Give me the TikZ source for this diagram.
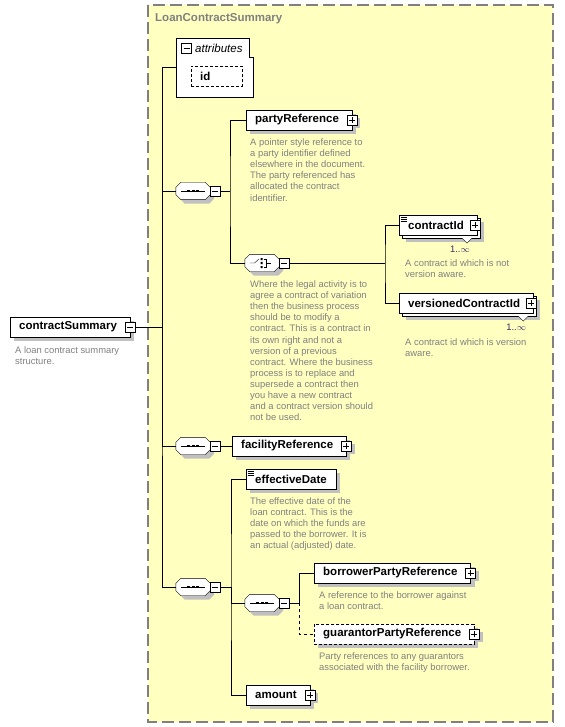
\documentclass[tikz,border=0pt]{standalone}
\usepackage{fontspec}
\setmainfont{Liberation Sans}
\definecolor{paleyellow}{RGB}{255,255,192}
\definecolor{framegray}{RGB}{128,128,128}
\definecolor{shadowgray}{RGB}{192,192,192}
\definecolor{notegray}{RGB}{128,128,128}
\definecolor{multcol}{RGB}{60,40,100}
\pgfdeclarelayer{back}
\pgfdeclarelayer{under}
\pgfsetlayers{back,under,main}
\tikzset{
  elem/.style={draw,fill=white,anchor=west,minimum height=20pt,inner xsep=9pt,inner ysep=0pt,
    font=\fontsize{11.5}{13}\selectfont\bfseries},
  elemx/.style={elem,execute at end node={\kern4pt}},
  simpletype/.style={path picture={
    \foreach \k in {2,4,6}
      \draw[line width=.8pt] ([xshift=1.5pt,yshift=-\k pt]path picture bounding box.north west) -- ++(6,0);}},
  attrbox/.style={elem,dash pattern=on 3pt off 2pt,text width=33pt,align=left},
  pmbox/.style={draw,fill=white,minimum size=10pt,inner sep=0pt},
  minusbox/.style={pmbox,path picture={
    \draw ([xshift=2pt]path picture bounding box.west) -- ([xshift=-2pt]path picture bounding box.east);}},
  plusbox/.style={pmbox,path picture={
    \draw ([xshift=2pt]path picture bounding box.west) -- ([xshift=-2pt]path picture bounding box.east)
      ([yshift=2pt]path picture bounding box.south) -- ([yshift=-2pt]path picture bounding box.north);}},
  grp/.style={rectangle,minimum width=34pt,minimum height=17pt,inner sep=0pt},
  seqicon/.style={grp,path picture={
    \draw[black] ([xshift=5pt]path picture bounding box.west) -- ([xshift=-5pt]path picture bounding box.east);
    \foreach \d in {-4.5,0,4.5}
      \fill[black] ([xshift=\d pt-1.5pt,yshift=-1.2pt]path picture bounding box.center)
        rectangle ([xshift=\d pt+1.5pt,yshift=1.2pt]path picture bounding box.center);}},
  choiceicon/.style={grp,path picture={
    \begin{scope}[shift={(path picture bounding box.center)}]
      \draw (-12.5,0) -- (-7.5,0) -- (-3,-4);
      \fill[black] (-1.5,-5) rectangle (0.7,-3) (-1.5,-1.1) rectangle (0.7,1.1) (-1.5,3) rectangle (0.7,5);
      \draw (1.7,-4) -- (4.5,-4) -- (4.5,4) -- (1.7,4) (4.5,0) -- (8.5,0);
    \end{scope}}},
  note/.style={anchor=north west,align=left,inner sep=0pt,text=notegray,font=\fontsize{9.4}{11.1}\selectfont},
  mult/.style={anchor=east,inner sep=0pt,text=multcol,font=\fontsize{9.4}{11}\selectfont}
}
% octagon round a group node, moved right and down by #2
\newcommand\octapath[2]{([xshift=5pt+#2,yshift=-#2]#1.north west) -- ([xshift=-5pt+#2,yshift=-#2]#1.north east)
  -- ([xshift=#2,yshift=-5pt-#2]#1.north east) -- ([xshift=#2,yshift=5pt-#2]#1.south east)
  -- ([xshift=-5pt+#2,yshift=-#2]#1.south east) -- ([xshift=5pt+#2,yshift=-#2]#1.south west)
  -- ([xshift=#2,yshift=5pt-#2]#1.south west) -- ([xshift=#2,yshift=-5pt-#2]#1.north west) -- cycle}
\begin{document}
\begin{tikzpicture}[x=1pt,y=-1pt,line width=1pt]
\useasboundingbox (0,0) rectangle (564,727);
% complex type frame
\begin{pgfonlayer}{back}
\draw[draw=framegray,fill=paleyellow,dash pattern=on 12pt off 5pt,line width=1.3pt] (148,5) rectangle (553,722);
\end{pgfonlayer}
\node[anchor=west,inner sep=0pt,text=framegray,font=\fontsize{11.5}{13}\selectfont\bfseries] (title) at (155,19) {LoanContractSummary};

% root element
\node[elemx] (cs) at (10,327) {contractSummary};
\node[minusbox] (cs-m) at (cs.east) {};
\node[note] (cs-d) at (15,346.5) {A loan contract summary\\structure.};

% attributes
\node[minimum width=77pt,minimum height=59pt,inner sep=0pt] (attr) at (214.5,67.5) {};
\draw[fill=white] (attr.north west) -- ([xshift=-4pt]attr.north east) -- ++(0,19) -- ++(4,0)
  -- (attr.south east) -- (attr.south west) -- cycle;
\node[minusbox] (attr-m) at (186.5,48.5) {};
\node[anchor=west,inner sep=0pt,font=\fontsize{11.5}{13}\selectfont\itshape] (attr-t) at (195,48.5) {attributes};
\node[attrbox] (id) at (191,76.5) {id};

% first sequence
\node[seqicon] (seq1) at (193,191) {};
\node[minusbox,anchor=west] (seq1-m) at (seq1.east) {};
\node[elemx] (party) at (246,120) {partyReference};
\node[plusbox] (party-p) at (party.east) {};
\node[note] (party-d) at (250,138.5) {A pointer style reference to\\a party identifier defined\\elsewhere in the document.\\The party referenced has\\allocated the contract\\identifier.};

% choice
\node[choiceicon] (choice) at (262,263) {};
\node[minusbox,anchor=west] (choice-m) at (choice.east) {};
\node[note] (choice-d) at (250,280.5) {Where the legal activity is to\\agree a contract of variation\\then the business process\\should be to modify a\\contract. This is a contract in\\its own right and not a\\version of a previous\\contract. Where the business\\process is to replace and\\supersede a contract then\\you have a new contract\\and a contract version should\\not be used.};

\node[elemx,simpletype] (cid) at (399,225) {contractId};
\node[plusbox] (cid-p) at ([xshift=-2pt]cid.east) {};
\draw[fill=white] ([xshift=-15pt,yshift=-3pt]cid.south east) -- ++(5,5) -- ++(5,-5);
\node[mult] (cid-n) at ([xshift=-7pt,yshift=-14pt]cid.south east) {1..$\infty$};
\node[note] (cid-d) at (405,259.5) {A contract id which is not\\version aware.};

\node[elemx] (vcid) at (399,303) {versionedContractId};
\node[plusbox] (vcid-p) at ([xshift=-2pt]vcid.east) {};
\draw[fill=white] ([xshift=-15pt,yshift=-3pt]vcid.south east) -- ++(5,5) -- ++(5,-5);
\node[mult] (vcid-n) at ([xshift=-7pt,yshift=-14pt]vcid.south east) {1..$\infty$};
\node[note] (vcid-d) at (405,338.5) {A contract id which is version\\aware.};

% second sequence
\node[seqicon] (seq2) at (193,446) {};
\node[minusbox,anchor=west] (seq2-m) at (seq2.east) {};
\node[elemx] (fac) at (232,446) {facilityReference};
\node[plusbox] (fac-p) at (fac.east) {};

% third sequence
\node[seqicon] (seq3) at (193,587) {};
\node[minusbox,anchor=west] (seq3-m) at (seq3.east) {};
\node[elem,simpletype] (eff) at (246,479) {effectiveDate};
\node[note] (eff-d) at (250,497.5) {The effective date of the\\loan contract. This is the\\date on which the funds are\\passed to the borrower. It is\\an actual (adjusted) date.};

\node[seqicon] (seq4) at (262,603) {};
\node[minusbox,anchor=west] (seq4-m) at (seq4.east) {};
\node[elemx] (bor) at (314,573) {borrowerPartyReference};
\node[plusbox] (bor-p) at (bor.east) {};
\node[note] (bor-d) at (319,591.5) {A reference to the borrower against\\a loan contract.};
\node[elemx,dash pattern=on 3pt off 2pt] (gua) at (314,634) {guarantorPartyReference};
\node[plusbox] (gua-p) at (gua.east) {};
\node[note] (gua-d) at (319,652.5) {Party references to any guarantors\\associated with the facility borrower.};

\node[elemx] (amount) at (246,695) {amount};
\node[plusbox] (amount-p) at (amount.east) {};

% shadows, stacked copies and group outlines
\begin{pgfonlayer}{under}
\foreach \n in {cs,id,party,fac,eff,bor,gua,amount}
  \fill[shadowgray] ([xshift=4pt,yshift=-4pt]\n.north west) rectangle ([xshift=4pt,yshift=-4pt]\n.south east);
\foreach \n in {party-p,fac-p,bor-p,gua-p,amount-p,cid-p,vcid-p}
  \fill[shadowgray] ([xshift=3pt,yshift=-3pt]\n.north west) rectangle ([xshift=3pt,yshift=-3pt]\n.south east);
\foreach \n in {cid,vcid} {
  \fill[shadowgray] ([xshift=7pt,yshift=-7pt]\n.north west) rectangle ([xshift=7pt,yshift=-7pt]\n.south east);
  \draw[fill=white] ([xshift=3pt,yshift=-3pt]\n.north west) rectangle ([xshift=3pt,yshift=-3pt]\n.south east);
}
\foreach \n in {seq1,choice,seq2,seq3,seq4} {
  \fill[shadowgray] \octapath{\n}{4pt};
  \draw[fill=white] \octapath{\n}{0pt};
}
\end{pgfonlayer}

% connectors
\coordinate (trunk) at (162,327);
\draw (cs-m.east) -- (trunk);
\draw (attr.west) -| (trunk) |- (seq3.west);
\draw (trunk) |- (seq1.west);
\draw (trunk) |- (seq2.west);
\coordinate (s1) at (230,191);
\draw (seq1-m.east) -- (s1);
\draw (party.west) -| (s1) |- (choice.west);
\coordinate (c1) at (385,263);
\draw (choice-m.east) -- (c1);
\draw (cid.west) -| (c1) |- (vcid.west);
\draw (seq2-m.east) -- (fac.west);
\coordinate (s3) at (231,587);
\draw (seq3-m.east) -- (s3);
\draw (eff.west) -| (s3) |- (amount.west);
\draw (s3) |- (seq4.west);
\coordinate (s4) at (299,603);
\draw (seq4-m.east) -- (s4);
\draw (bor.west) -| (s4);
\draw[dashed] (s4) |- (gua.west);
\end{tikzpicture}
\end{document}
